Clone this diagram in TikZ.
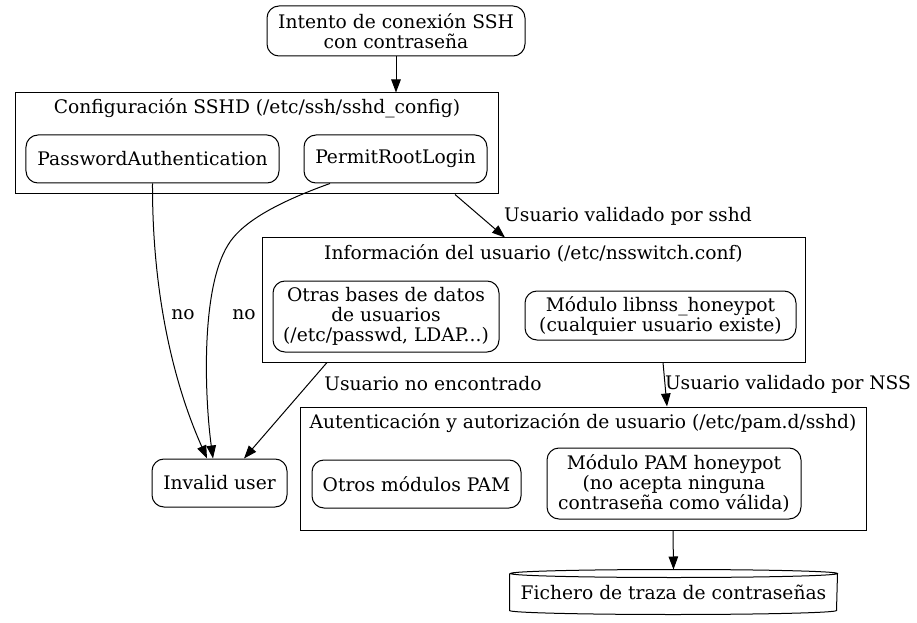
\documentclass[tikz,border=0pt]{standalone}
\usepackage{fontspec}
\setmainfont{DejaVu Serif}
\usetikzlibrary{arrows.meta,positioning,calc}

\begin{document}
\begin{tikzpicture}[
    x=1bp, y=-1bp,
    font=\fontsize{18.67bp}{20bp}\selectfont,
    line width=1bp,
    >={Triangle[length=13bp,width=9.5bp]},
    box/.style={draw, rounded corners=12bp, align=center, inner sep=0pt},
    cluster/.style={draw, inner sep=0pt},
    title/.style={inner sep=0pt, anchor=base},
    elabel/.style={inner sep=0pt},
]
\useasboundingbox[fill=white] (0,0) rectangle (917,623);

\node[box, minimum width=258bp, minimum height=50bp] (start) at (396,31) {Intento de conexión SSH\\con contraseña};

\node[cluster, minimum width=482bp, minimum height=101bp] (sshd) at (257,143.5) {};
\node[title] (sshdtitle) at ([yshift=-21bp]sshd.north) {Configuración SSHD (/etc/ssh/sshd\_config)};
\node[box, minimum width=253bp, minimum height=48bp] (pwdauth) at (152.5,159) {PasswordAuthentication};
\node[box, minimum width=183bp, minimum height=48bp] (rootlogin) at (395.5,159) {PermitRootLogin};

\node[cluster, minimum width=543bp, minimum height=124bp] (nsinfo) at (533.5,300) {};
\node[title] (nsinfotitle) at ([yshift=-22bp]nsinfo.north) {Información del usuario (/etc/nsswitch.conf)};
\node[box, minimum width=226bp, minimum height=71bp] (otherdb) at (386,316.5) {Otras bases de datos\\de usuarios\\(/etc/passwd, LDAP...)};
\node[box, minimum width=271bp, minimum height=49bp] (nsshp) at (660.5,315.5) {Módulo libnss\_honeypot\\(cualquier usuario existe)};

\node[cluster, minimum width=566bp, minimum height=123bp] (pam) at (583,468.5) {};
\node[title] (pamtitle) at ([yshift=-22bp]pam.north) {Autenticación y autorización de usuario (/etc/pam.d/sshd)};
\node[box, minimum width=209bp, minimum height=48bp] (otherpam) at (416.5,484) {Otros módulos PAM};
\node[box, minimum width=254bp, minimum height=71bp] (pamhp) at (674,483.5) {Módulo PAM honeypot\\(no acepta ninguna\\contraseña como válida)};

\node[box, minimum width=135bp, minimum height=48bp] (invalid) at (219.5,483) {Invalid user};

\node[minimum width=327bp, minimum height=36bp, inner sep=0pt] (pwlog) at (673.5,592) {Fichero de traza de contraseñas};
\draw (pwlog.north west) -- (pwlog.south west)
    arc[start angle=180, end angle=360, x radius=163.5bp, y radius=4bp] -- (pwlog.north east)
    arc[start angle=0, end angle=180, x radius=163.5bp, y radius=4bp]
    arc[start angle=180, end angle=360, x radius=163.5bp, y radius=4bp];

\draw[->] (start) -- (396,0 |- sshd.north);
\draw[->] (pwdauth.south) .. controls (152,330) and (190,420) .. (207,0 |- invalid.north);
\draw[->] (330,0 |- rootlogin.south) .. controls (270,205) and (240,225) .. (228,245)
    .. controls (200,290) and (205,400) .. (213,0 |- invalid.north);
\node[elabel] (no1) at (183,315) {no};
\node[elabel] (no2) at (244,315) {no};
\draw[->] (455,0 |- sshd.south) -- (505,0 |- nsinfo.north);
\node[elabel] (sshdok) at (628,216) {Usuario validado por sshd};
\draw[->] (327,0 |- nsinfo.south) -- (244,0 |- invalid.north);
\node[elabel] (notfound) at (433,384) {Usuario no encontrado};
\draw[->] (663,0 |- nsinfo.south) -- (667,0 |- pam.north);
\node[elabel] (nssok) at (788,384) {Usuario validado por NSS};
\draw[->] (673,0 |- pam.south) -- ([yshift=4bp]pwlog.north);
\end{tikzpicture}
\end{document}
